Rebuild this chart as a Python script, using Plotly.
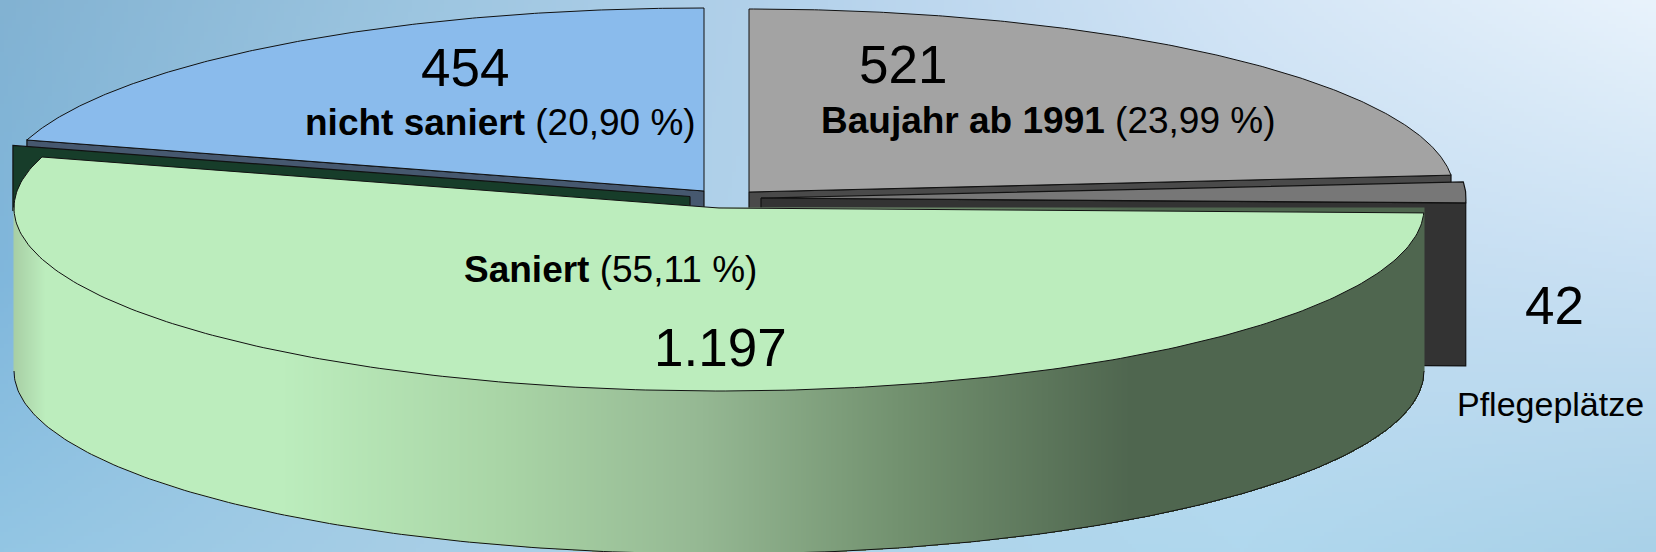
import numpy as np
import plotly.graph_objects as go

# ---- data ----
categories = ["Saniert", "nicht saniert", "Baujahr ab 1991", "Pflegeplätze"]
values = [1197, 454, 521, 42]
value_labels = ["1.197", "454", "521", "42"]
percent_labels = ["(55,11 %)", "(20,90 %)", "(23,99 %)"]

# ---- pie geometry (projection of an oblique 3D pie) ----
W, H = 1656, 552
A, B, DEPTH = 705.0, 183.0, 163.0
START_DEG = -90.0          # Baujahr slice starts at the top, runs clockwise
OUTLINE = "#111111"

sweep = {c: v / sum(values) * 360.0 for c, v in zip(categories, values)}
t_gray0 = START_DEG
t_gray1 = t_gray0 + sweep["Baujahr ab 1991"]
t_pfl1 = t_gray1 + sweep["Pflegeplätze"]
t_green1 = t_pfl1 + sweep["Saniert"]
t_blue1 = t_green1 + sweep["nicht saniert"]

CENTER = {
    "Saniert": (719.0, 208.0),
    "nicht saniert": (704.0, 191.0),
    "Baujahr ab 1991": (749.0, 192.0),
    "Pflegeplätze": (761.0, 198.0),
}
CUT_OFFSET = (-29.0, -11.5)  # dark inner face of the Saniert slice
CUT_HEIGHT = 65.0


def arc(center, t0, t1, n=240):
    t = np.radians(np.linspace(t0, t1, n))
    return center[0] + A * np.cos(t), center[1] + B * np.sin(t)


def sector(center, t0, t1):
    x, y = arc(center, t0, t1)
    return np.r_[center[0], x, center[0]], np.r_[center[1], y, center[1]]


def poly(xs, ys, fill, ax="", line=OUTLINE, lw=1.2):
    return go.Scatter(
        x=xs, y=ys, mode="lines", fill="toself", fillcolor=fill,
        line=dict(color=line, width=lw), hoverinfo="skip", showlegend=False,
        xaxis="x" + ax, yaxis="y" + ax,
    )


def hex2rgb(h):
    return [int(h[i:i + 2], 16) for i in (1, 3, 5)]


fig = go.Figure()

# ---- background gradient, as an image trace ----
bg_x = [0, 414, 828, 1242, 1656]
bg_y = [0, 276, 552]
bg_colors = [
    ["#82b2d2", "#9cc5e0", "#b6d3ec", "#d3e5f6", "#e9f3fc"],
    ["#80b7dc", "#a3cae5", "#b4d4ec", "#c3dcf1", "#c8e0f3"],
    ["#93c6e4", "#a7cee6", "#aed4ea", "#b0d8ee", "#a9d1e8"],
]
rgb = np.array([[hex2rgb(c) for c in row] for row in bg_colors], float)
STEP = 4
gx = np.arange(STEP / 2, W, STEP)
gy = np.arange(STEP / 2, H, STEP)
img = np.zeros((len(gy), len(gx), 3))
for ch in range(3):
    rows = np.array([np.interp(gx, bg_x, rgb[r, :, ch]) for r in range(3)])
    for i in range(len(gx)):
        img[:, i, ch] = np.interp(gy, bg_y, rows[:, i])
fig.add_trace(go.Image(z=img.astype(np.uint8).tolist(), x0=STEP / 2, y0=STEP / 2,
                       dx=STEP, dy=STEP, hoverinfo="skip"))

# ---- back parts ----
# Baujahr: wall then top
c = CENTER["Baujahr ab 1991"]
x, y = sector(c, t_gray0, t_gray1)
wx, wy = arc(c, t_gray1, t_gray1)
fig.add_trace(poly([c[0], wx[0], wx[0], c[0], c[0]],
                   [c[1], wy[0], wy[0] + DEPTH, c[1] + DEPTH, c[1]], "#4a4a4a"))
fig.add_trace(poly(x, y, "#a3a3a3", lw=1.0))

# nicht saniert: wall then top
c = CENTER["nicht saniert"]
x, y = sector(c, t_green1, t_blue1)
wx, wy = arc(c, t_green1, t_green1)
fig.add_trace(poly([c[0], wx[0], wx[0], c[0], c[0]],
                   [c[1], wy[0], wy[0] + DEPTH, c[1] + DEPTH, c[1]], "#46586f"))
fig.add_trace(poly(x, y, "#8abbec", lw=1.0))

# Pflegeplätze: inner face then top
c = CENTER["Pflegeplätze"]
ex, ey = arc(c, t_gray1, t_pfl1, 30)
fig.add_trace(poly([c[0], ex[-1], ex[-1], c[0], c[0]],
                   [c[1], ey[-1], ey[-1] + DEPTH, c[1] + DEPTH, c[1]], "#333333"))
fig.add_trace(poly(np.r_[c[0], ex, c[0]], np.r_[c[1], ey, c[1]], "#777777"))

# Saniert inner face (dark green)
c = CENTER["Saniert"]
ex, ey = arc(c, t_green1, t_green1)
p = (c[0] + CUT_OFFSET[0], c[1] + CUT_OFFSET[1])
q = (ex[0] + CUT_OFFSET[0], ey[0] + CUT_OFFSET[1])
fig.add_trace(poly([p[0], q[0], q[0], p[0], p[0]],
                   [p[1], q[1], q[1] + CUT_HEIGHT, p[1] + CUT_HEIGHT, p[1]], "#173d2a"))

# ---- Saniert outer wall with a horizontal gradient (on the overlay axes) ----
stops_x = [14, 45, 280, 500, 700, 900, 1130, 1425]
stops_c = ["#a8cfa5", "#bcedbd", "#bcedbd", "#a9d5a6", "#95b893", "#72916f", "#4f664f", "#4f664f"]
span = stops_x[-1] - stops_x[0]
colorscale = [[(sx - stops_x[0]) / span, col] for sx, col in zip(stops_x, stops_c)]
hx = np.arange(c[0] - A, c[0] + A + 1, 1.0)
hy = np.arange(c[1], H + 1, 1.0)
u = np.clip((hx - c[0]) / A, -1, 1)
low = c[1] + B * np.sqrt(1 - u ** 2) + DEPTH
Z = np.tile(hx, (len(hy), 1))
Z[hy[:, None] > low[None, :]] = np.nan
fig.add_trace(go.Heatmap(x=hx, y=hy, z=Z, colorscale=colorscale, zmin=stops_x[0], zmax=stops_x[-1],
                         showscale=False, hoverinfo="skip", xaxis="x2", yaxis="y2"))
# wall bottom edge
bx, by = arc(c, t_pfl1 - 1.5, 180.0)
fig.add_trace(go.Scatter(x=bx, y=by + DEPTH, mode="lines", line=dict(color=OUTLINE, width=1),
                         hoverinfo="skip", showlegend=False, xaxis="x2", yaxis="y2"))
# Saniert top face
x, y = sector(c, t_pfl1, t_green1)
fig.add_trace(poly(x, y, "#bcedbd", ax="2", lw=1.0))

# ---- texts ----
BIG, MID, SMALL = 53, 37, 34
texts = [
    (465, 67, value_labels[1], BIG),
    (903, 64, value_labels[2], BIG),
    (720, 347, value_labels[0], BIG),
    (1554, 305, value_labels[3], BIG),
    (500, 122, f"<b>{categories[1]}</b> {percent_labels[1]}", MID),
    (1048, 120, f"<b>{categories[2]}</b> {percent_labels[2]}", MID),
    (610, 269, f"<b>{categories[0]}</b> {percent_labels[0]}", MID),
    (1550, 404, categories[3], SMALL),
]
for tx, ty, s, size in texts:
    fig.add_annotation(x=tx, y=ty, text=s, showarrow=False, xanchor="center", yanchor="middle",
                       font=dict(family="Liberation Sans, Arial, sans-serif", size=size, color="#000000"))

axis_common = dict(visible=False, fixedrange=True, showgrid=False, zeroline=False)
fig.update_layout(
    width=W, height=H, margin=dict(l=0, r=0, t=0, b=0), showlegend=False,
    paper_bgcolor="#b4d4ec", plot_bgcolor="rgba(0,0,0,0)",
    xaxis=dict(range=[0, W], domain=[0, 1], **axis_common),
    yaxis=dict(range=[H, 0], domain=[0, 1], **axis_common),
    xaxis2=dict(range=[0, W], domain=[0, 1], overlaying="x", **axis_common),
    yaxis2=dict(range=[H, 0], domain=[0, 1], overlaying="y", **axis_common),
)
fig.write_html("out.html", config={"displayModeBar": False},
               post_script="document.body.style.margin='0';document.body.style.overflow='hidden';")
